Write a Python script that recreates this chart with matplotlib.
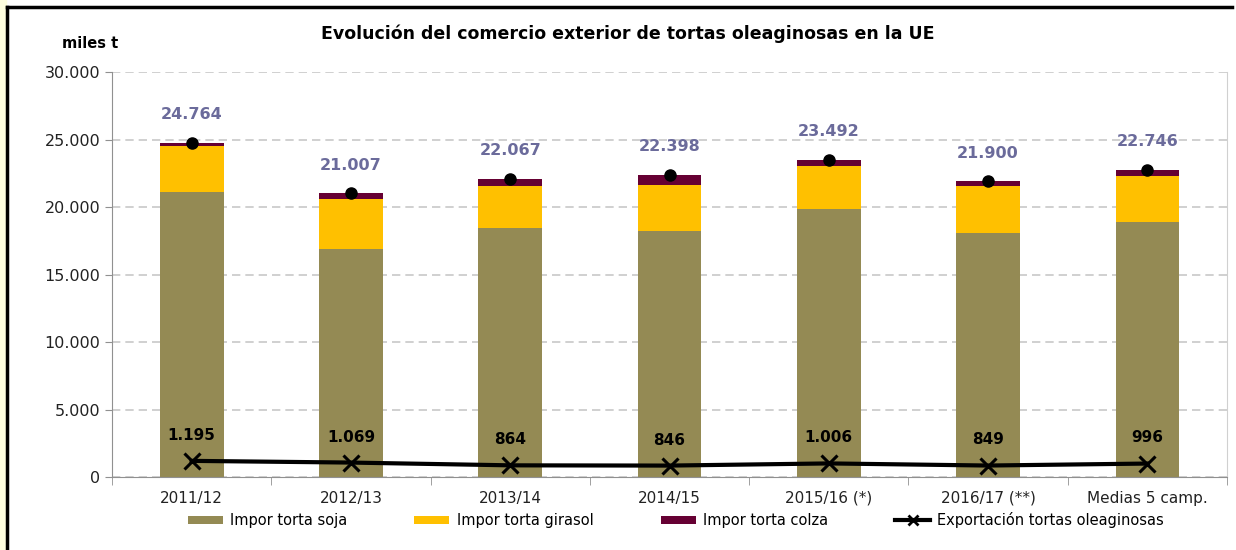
import numpy as np
import matplotlib
matplotlib.use("Agg")
import matplotlib.pyplot as plt
from matplotlib.patches import Rectangle
from matplotlib.lines import Line2D
from matplotlib.ticker import FuncFormatter, FixedLocator

# datos (miles t)
campanas = ["2011/12", "2012/13", "2013/14", "2014/15", "2015/16 (*)", "2016/17 (**)", "Medias 5 camp."]
soja = [21144, 16866, 18433, 18209, 19851, 18060, 18856]
girasol = [3408, 3706, 3109, 3433, 3209, 3482, 3433]
colza = [212, 435, 525, 756, 432, 358, 457]
total = [24764, 21007, 22067, 22398, 23492, 21900, 22746]
export = [1195, 1069, 864, 846, 1006, 849, 996]

def miles(v):
    return f"{int(round(v)):,}".replace(",", ".")

fig = plt.figure(figsize=(12.36, 5.5), dpi=100)
ax = fig.add_axes([112/1236, 1 - 477/550, (1227-112)/1236, (477-72)/550])

x = np.arange(len(campanas))
w = 0.4
b1 = ax.bar(x, soja, w, color="#948A54", zorder=2)
b2 = ax.bar(x, girasol, w, bottom=soja, color="#FFC000", zorder=2)
b3 = ax.bar(x, colza, w, bottom=np.array(soja) + np.array(girasol), color="#660033", zorder=2)

# puntos del total
ax.plot(x, total, "o", color="black", ms=8, zorder=4)
for xi, t in zip(x, total):
    ax.annotate(miles(t), (xi, t), xytext=(0, 15), textcoords="offset points",
                ha="center", va="bottom", fontsize=11.5, fontweight="bold", color="#6B6B9B")

ax.plot(x, export, "-x", color="black", lw=3, ms=11, mew=2.2, zorder=5)
for xi, e in zip(x, export):
    ax.annotate(miles(e), (xi, e), xytext=(0, 13), textcoords="offset points",
                ha="center", va="bottom", fontsize=11, fontweight="bold", color="black")

ax.set_xlim(-0.5, len(campanas) - 0.5)
ax.set_ylim(0, 30000)
ax.set_yticks(np.arange(0, 30001, 5000))
ax.yaxis.set_major_formatter(FuncFormatter(lambda v, p: miles(v)))
ax.yaxis.grid(True, color="#C8C8C8", ls=(0, (5, 3)), lw=1.2, zorder=0)
ax.set_xticks(x)
ax.set_xticklabels(campanas, fontsize=11, color="#222222")
ax.xaxis.set_minor_locator(FixedLocator(np.arange(-0.5, len(campanas), 1)))
ax.tick_params(axis="x", which="major", length=0, pad=10)
ax.tick_params(axis="x", which="minor", length=6, color="#909090")
ax.tick_params(axis="y", length=5, color="#909090", labelsize=11.5, labelcolor="#222222")
for s in ["left", "bottom"]:
    ax.spines[s].set_color("#909090")
    ax.spines[s].set_zorder(3)
ax.spines["right"].set_color("#D0D0D0")
ax.spines["top"].set_visible(False)

linea_ley = Line2D([], [], color="black", lw=3, marker="x", ms=7, mew=2)
ax.legend([b1, b2, b3, linea_ley],
          ["Impor torta soja", "Impor torta girasol", "Impor torta colza", "Exportación tortas oleaginosas"],
          loc="center", bbox_to_anchor=(676/1236, 1 - 520/550), bbox_transform=fig.transFigure,
          ncol=4, frameon=False, fontsize=10.5, handlelength=2.4, handleheight=0.5,
          columnspacing=4.6, handletextpad=0.5)

fig.text(628/1236, 1 - 34/550, "Evolución del comercio exterior de tortas oleaginosas en la UE",
         ha="center", va="center", fontsize=12.5, fontweight="bold")
fig.text(90/1236, 1 - 43/550, "miles t", ha="center", va="center", fontsize=10.5, fontweight="bold")

# marco
fig.add_artist(Rectangle((0, 0), 6/1236, 1, transform=fig.transFigure, color="#FFFFE0", zorder=0))
fig.add_artist(Line2D([7/1236, 7/1236], [0, 1 - 7/550], transform=fig.transFigure, color="black", lw=2.5))
fig.add_artist(Line2D([7/1236, 1232/1236], [1 - 7/550, 1 - 7/550], transform=fig.transFigure,
                      color="black", lw=2.5))

fig.savefig("out.png", dpi=100)
